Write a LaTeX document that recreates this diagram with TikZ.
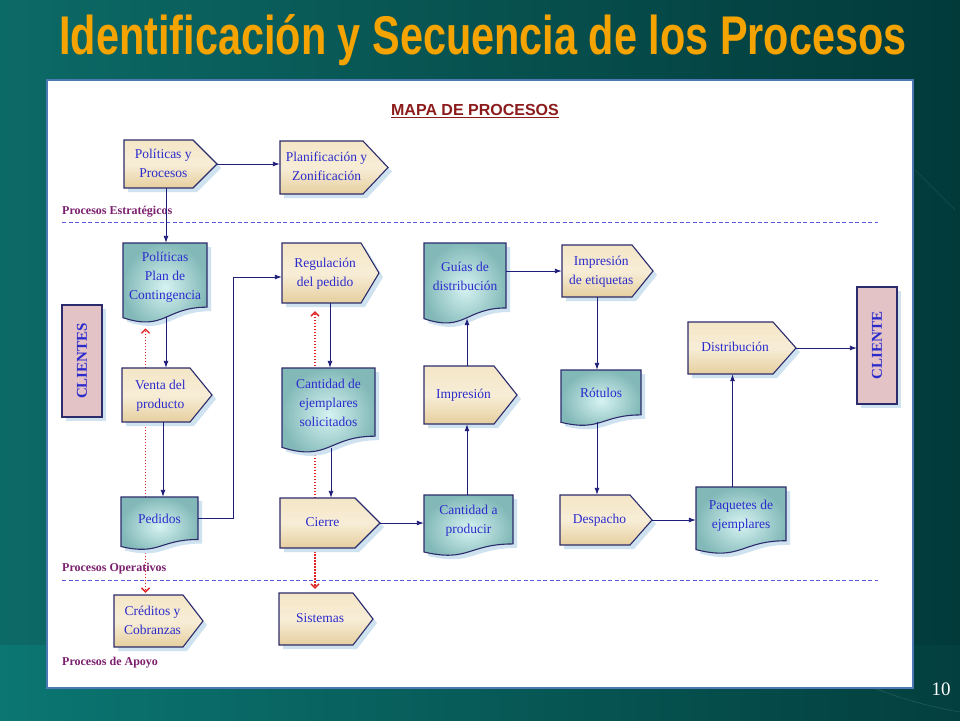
\documentclass[tikz,border=0pt]{standalone}
\usepackage{fontspec}
\usepackage{graphicx}
\setmainfont{Liberation Serif}
\newfontfamily\titlefont{Liberation Sans}
\usetikzlibrary{arrows.meta,shadings}
\definecolor{bgA}{HTML}{0C6A66}
\definecolor{bgB}{HTML}{023A3A}
\definecolor{bgC}{HTML}{0B7672}
\definecolor{bgD}{HTML}{033F3E}
\definecolor{ttl}{HTML}{F5A300}
\definecolor{panelb}{HTML}{4D78B4}
\definecolor{navy}{HTML}{1E1E7A}
\definecolor{edge}{HTML}{2C2C6C}
\definecolor{txtblue}{HTML}{2B2BCC}
\definecolor{tanA}{HTML}{F4E6C6}
\definecolor{tanB}{HTML}{E6CF9F}
\definecolor{tealIn}{HTML}{D6F3F2}
\definecolor{tealOut}{HTML}{82B9B8}
\definecolor{pinkF}{HTML}{E4C3C6}
\definecolor{shadowc}{HTML}{CFE2F0}
\definecolor{dashc}{HTML}{5A5AE0}
\definecolor{lblc}{HTML}{7B1F6E}
\definecolor{mapred}{HTML}{8C1C1C}
\definecolor{redarr}{HTML}{E02020}
\pgfdeclarelayer{back}
\pgfdeclarelayer{mid}
\pgfsetlayers{back,mid,main}
\tikzset{
  pentastyle/.style={draw=edge,line width=1.1pt,top color=tanA,bottom color=tanB,middle color=tanA!70!white},
  docstyle/.style={draw=edge,line width=1.1pt,inner color=tealIn,outer color=tealOut},
  pinkstyle/.style={draw=edge,line width=1.1pt,fill=pinkF},
  txt/.style={draw=none,inner sep=0pt,text=txtblue,font=\fontsize{13.5}{19}\selectfont},
  flow/.style={draw=navy,line width=0.9pt,-{Latex[length=7pt,width=5pt]}},
  redflow/.style={draw=redarr,line width=1.3pt,dash pattern=on 1.3pt off 1.7pt,-{Straight Barb[length=4pt,width=8pt]}},
  sepline/.style={draw=dashc,line width=1pt,dash pattern=on 4pt off 2.5pt},
  lbl/.style={anchor=west,inner sep=0pt,text=lblc,font=\fontsize{12}{14}\selectfont\bfseries},
}
% name, x1, y1, x2, y2, d, text
\newcommand{\pentabox}[7]{%
  \pgfmathsetmacro{\ymid}{(#3+#5)/2}%
  \fill[shadowc] (#2+4,#3+4) -- (#4-#6+4,#3+4) -- (#4+4,\ymid+4) -- (#4-#6+4,#5+4) -- (#2+4,#5+4) -- cycle;
  \path[pentastyle] (#2,#3) -- (#4-#6,#3) -- (#4,\ymid) -- (#4-#6,#5) -- (#2,#5) -- cycle;
  \pgfmathsetmacro{\boxW}{#4-#2}\pgfmathsetmacro{\boxH}{#5-#3}\pgfmathsetmacro{\padR}{0.6*#6}%
  \node[txt,minimum width=\boxW pt,minimum height=\boxH pt] (#1) at ({(#2+#4)/2},\ymid)
    {\begin{tabular}{@{}c@{}}#7\end{tabular}\hspace*{\padR pt}};
}
% name, x1, y1, x2, H, text   (node covers the top 0.84H)
\newcommand{\docbox}[6]{%
  \pgfmathsetmacro{\xm}{(#2+#4)/2}%
  \fill[shadowc] (#2+4,#3+4) -- (#4+4,#3+4) -- (#4+4,#3+0.802*#5+4) .. controls (\xm+4,#3+0.802*#5+4) and (\xm+4,#3+1.107*#5+4) .. (#2+4,#3+0.934*#5+4) -- cycle;
  \path[docstyle] (#2,#3) -- (#4,#3) -- (#4,#3+0.802*#5) .. controls (\xm,#3+0.802*#5) and (\xm,#3+1.107*#5) .. (#2,#3+0.934*#5) -- cycle;
  \pgfmathsetmacro{\boxW}{#4-#2}\pgfmathsetmacro{\boxH}{0.84*#5}%
  \node[txt,minimum width=\boxW pt,minimum height=\boxH pt] (#1) at (\xm,#3+0.42*#5)
    {\begin{tabular}{@{}c@{}}#6\end{tabular}};
}
\begin{document}
\begin{tikzpicture}[x=1pt,y=-1pt]
\useasboundingbox (0,0) rectangle (960,720);
\begin{pgfonlayer}{back}
% background
\shade[left color=bgA,right color=bgB] (0,0) rectangle (960,645);
\shade[left color=bgC,right color=bgD] (0,645) rectangle (960,720);
\draw[white,opacity=0.12,line width=0.6pt] (780,640) .. controls (860,690) and (920,705) .. (960,712);
\draw[white,opacity=0.10,line width=0.6pt] (915,170) -- (955,210);
% panel
\filldraw[fill=white,draw=panelb,line width=2.5pt] (47,80) rectangle (913,688);
\end{pgfonlayer}
% title
\node[inner sep=0pt,text=ttl] (title) at (483,40) {\titlefont\bfseries\resizebox{847pt}{40pt}{Identificación y Secuencia de los Procesos}};
\node[inner sep=0pt,text=mapred,font=\titlefont\fontsize{16}{18}\selectfont\bfseries] (mapa) at (475,111) {\underline{MAPA DE PROCESOS}};
% separator lines and labels
\draw[sepline] (62,222) -- (878,222);
\draw[sepline] (62,580) -- (878,580);
\node[lbl] (lEst) at (62,212) {Procesos Estratégicos};
\node[lbl] (lOpe) at (62,569) {Procesos Operativos};
\node[lbl] (lApo) at (62,663) {Procesos de Apoyo};
% pentagon process boxes
\pentabox{polproc}{124}{140}{217}{188}{24}{Políticas y\\Procesos}
\pentabox{planif}{280}{141}{388}{194}{25}{Planificación y\\Zonificación}
\pentabox{regul}{282}{243}{379}{303}{18}{Regulación\\del pedido}
\pentabox{impet}{562}{245}{653}{297}{21}{Impresión\\de etiquetas}
\pentabox{venta}{122}{368}{212}{422}{22}{Venta del\\producto}
\pentabox{impres}{424}{366}{517}{424}{23}{Impresión}
\pentabox{distrib}{688}{322}{796}{374}{23}{Distribución}
\pentabox{cierre}{280}{498}{380}{548}{25}{Cierre}
\pentabox{despacho}{560}{495}{652}{545}{22}{Despacho}
\pentabox{creditos}{114}{595}{203}{647}{20}{Créditos y\\Cobranzas}
\pentabox{sistemas}{279}{593}{373}{645}{20}{Sistemas}
% document boxes
\docbox{polplan}{123}{243}{207}{80}{Políticas\\Plan de\\Contingencia}
\docbox{guias}{424}{243}{506}{81}{Guías de\\distribución}
\docbox{cantsol}{282}{368}{375}{85}{Cantidad de\\ejemplares\\solicitados}
\docbox{rotulos}{561}{370}{641}{56}{Rótulos}
\docbox{pedidos}{121}{497}{198}{53}{Pedidos}
\docbox{cantprod}{424}{495}{513}{61}{Cantidad a\\producir}
\docbox{paquetes}{696}{487}{786}{67}{Paquetes de\\ejemplares}
% client boxes
\fill[shadowc] (66,309) rectangle (106,421);
\filldraw[pinkstyle] (62,305) rectangle (102,417);
\node[inner sep=0pt,rotate=90,text=txtblue,font=\fontsize{15}{17}\selectfont\bfseries] (clientes) at (82,361) {CLIENTES};
\fill[shadowc] (861,291) rectangle (901,408);
\filldraw[pinkstyle] (857,287) rectangle (897,404);
\node[inner sep=0pt,rotate=90,text=txtblue,font=\fontsize{15}{17}\selectfont\bfseries,minimum width=117pt,minimum height=40pt] (cliente) at (877,345.5) {CLIENTE};
% page number
\node[inner sep=0pt,text=white,font=\fontsize{19}{20}\selectfont] (pnum) at (941,689) {10};
% flow connectors
\draw[flow] (polproc.east) -- (polproc.east -| planif.west);
\draw[flow] ([xshift=-4.5pt]polproc.south) -- ([xshift=-4.5pt]polproc.south |- polplan.north);
\draw[flow] ([xshift=1pt,yshift=-7pt]polplan.south) -- ([xshift=1pt]polplan.south |- venta.north);
\draw[flow] ([xshift=-4pt]venta.south) -- ([xshift=-4pt]venta.south |- pedidos.north);
\draw[flow] ([yshift=1pt]pedidos.east) -- ++(35,0) |- ([yshift=-4pt]regul.west);
\draw[flow] ([xshift=-0.5pt]regul.south) -- ([xshift=-0.5pt]regul.south |- cantsol.north);
\draw[flow] ([xshift=2.5pt,yshift=-8pt]cantsol.south) -- ([xshift=2.5pt]cantsol.south |- cierre.north);
\draw[flow] (cierre.east) -- (cierre.east -| cantprod.west);
\draw[flow] ([xshift=-1.5pt]cantprod.north) -- ([xshift=-1.5pt]cantprod.north |- impres.south);
\draw[flow] ([xshift=-3.5pt]impres.north) -- ([xshift=-3.5pt,yshift=-7pt]impres.north |- guias.south);
\draw[flow] (impet.west -| guias.east) -- (impet.west);
\draw[flow] ([xshift=-10.5pt]impet.south) -- ([xshift=-10.5pt]impet.south |- rotulos.north);
\draw[flow] ([xshift=-4pt,yshift=-5pt]rotulos.south) -- ([xshift=-4pt]rotulos.south |- despacho.north);
\draw[flow] (despacho.east) -- (despacho.east -| paquetes.west);
\draw[flow] ([xshift=-8.5pt]paquetes.north) -- ([xshift=-8.5pt]paquetes.north |- distrib.south);
\draw[flow] (distrib.east) -- (distrib.east -| cliente.north);
% support links (red dotted), behind the boxes
\begin{pgfonlayer}{mid}
\draw[redflow] ([xshift=-14pt]pedidos.north) -- ([xshift=-14pt,yshift=-18pt]pedidos.north |- polplan.south);
\draw[redflow] ([xshift=-14pt,yshift=-8pt]pedidos.south) -- ([xshift=-14pt,yshift=2pt]pedidos.south |- creditos.north);
\draw[redflow] ([xshift=-15pt]cierre.north) -- ([xshift=-15pt,yshift=-8pt]cierre.north |- regul.south);
\draw[redflow] ([xshift=-15pt]cierre.south) -- ([xshift=-15pt,yshift=4pt]cierre.south |- sistemas.north);
\end{pgfonlayer}
\end{tikzpicture}
\end{document}
